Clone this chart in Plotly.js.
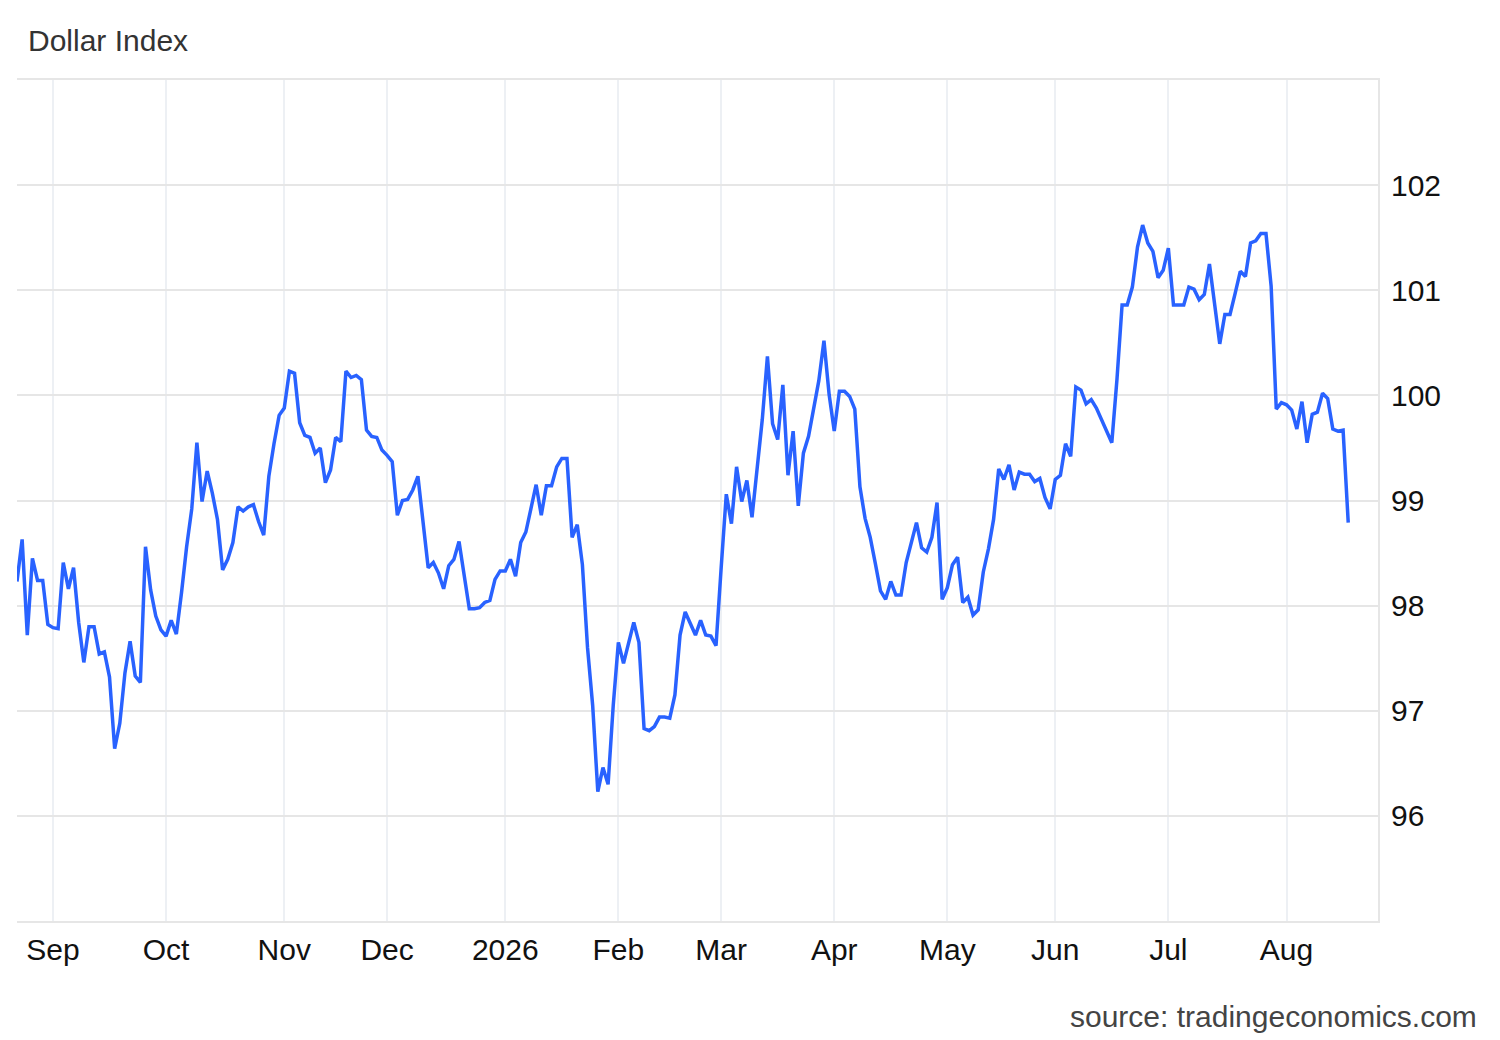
<!DOCTYPE html>
<html>
<head>
<meta charset="utf-8">
<script src="https://cdn.plot.ly/plotly-3.0.1.min.js"></script>
<style>
  html, body { margin: 0; padding: 0; background: #ffffff; }
  #chart { width: 1500px; height: 1040px; }
</style>
</head>
<body>
<div id="chart"></div>
<script>
// Dollar Index, daily (business days)
const startDate = "2025-08-21";
const aug2025 = [98.23, 98.63, 97.72, 98.45, 98.24, 98.24, 97.82];
const sep2025 = [97.79, 97.78, 98.41, 98.16, 98.36, 97.84, 97.46, 97.80, 97.80, 97.54, 97.56,
                 97.32, 96.64, 96.88, 97.36, 97.66, 97.33, 97.27, 98.56, 98.15, 97.90, 97.77];
const oct2025 = [97.71, 97.86, 97.73, 98.12, 98.56, 98.92, 99.55, 98.99, 99.28, 99.07, 98.82, 98.34,
                 98.44, 98.60, 98.94, 98.90, 98.94, 98.96, 98.80, 98.67, 99.23, 99.54, 99.81];
const nov2025 = [99.88, 100.23, 100.21, 99.74, 99.62, 99.60, 99.45, 99.50, 99.17, 99.29, 99.60,
                 99.56, 100.23, 100.17, 100.19, 100.15, 99.67, 99.61, 99.60, 99.48];
const dec2025 = [99.43, 99.37, 98.86, 99.00, 99.01, 99.10, 99.23, 98.82, 98.36, 98.41, 98.31, 98.16,
                 98.38, 98.44, 98.61, 98.29, 97.97, 97.97, 97.98, 98.03, 98.05, 98.25, 98.33];
const jan2026 = [98.33, 98.44, 98.28, 98.60, 98.70, 98.94, 99.15, 98.86, 99.14, 99.14, 99.32,
                 99.40, 99.40, 98.65, 98.77, 98.39, 97.60, 97.05, 96.23, 96.46, 96.30, 97.05];
const feb2026 = [97.65, 97.45, 97.64, 97.84, 97.65, 96.83, 96.81, 96.85, 96.94, 96.94,
                 96.93, 97.15, 97.72, 97.94, 97.83, 97.72, 97.86, 97.72, 97.71, 97.62];
const mar2026 = [98.36, 99.06, 98.78, 99.32, 98.99, 99.19, 98.84, 99.27, 99.77, 100.37, 99.73,
                 99.58, 100.10, 99.24, 99.66, 98.95, 99.45, 99.61, 99.88, 100.14, 100.52, 100.01];
const apr2026 = [99.66, 100.04, 100.04, 99.99, 99.87, 99.13, 98.83, 98.65, 98.40, 98.14, 98.06,
                 98.23, 98.10, 98.10, 98.41, 98.61, 98.79, 98.55, 98.51, 98.65, 98.98, 98.06];
const may2026 = [98.17, 98.39, 98.46, 98.03, 98.08, 97.91, 97.96, 98.32, 98.54, 98.82, 99.30,
                 99.20, 99.34, 99.10, 99.27, 99.25, 99.25, 99.18, 99.21, 99.03, 98.92];
const jun2026 = [99.20, 99.24, 99.54, 99.42, 100.08, 100.05, 99.92, 99.96, 99.88, 99.77, 99.66,
                 99.55, 100.15, 100.86, 100.86, 101.03, 101.41, 101.62, 101.45, 101.37, 101.12, 101.19];
const jul2026 = [101.40, 100.86, 100.86, 100.86, 101.03, 101.01, 100.91, 100.96, 101.25, 100.88, 100.49, 100.77,
                 100.77, 100.97, 101.18, 101.13, 101.45, 101.47, 101.54, 101.54, 101.04, 99.87, 99.93];
const aug2026 = [99.91, 99.86, 99.68, 99.94, 99.55, 99.82, 99.84, 100.02, 99.97, 99.68, 99.66, 99.67, 98.79];

const monthTickDates = ["2025-09-01", "2025-10-01", "2025-11-03", "2025-12-01", "2026-01-01", "2026-02-02",
                        "2026-03-02", "2026-04-01", "2026-05-01", "2026-06-01", "2026-07-01", "2026-08-03"];
const monthTickLabels = ["Sep", "Oct", "Nov", "Dec", "2026", "Feb", "Mar", "Apr", "May", "Jun", "Jul", "Aug"];
const yTickVals = [96, 97, 98, 99, 100, 101, 102];

const values = [].concat(aug2025, sep2025, oct2025, nov2025, dec2025, jan2026, feb2026,
                         mar2026, apr2026, may2026, jun2026, jul2026, aug2026);

// business-day dates for the x axis
function businessDays(start, n) {
  const out = [];
  const p = start.split("-").map(Number);
  let t = Date.UTC(p[0], p[1] - 1, p[2]);
  while (out.length < n) {
    const d = new Date(t);
    const wd = d.getUTCDay();
    if (wd !== 0 && wd !== 6) out.push(d.toISOString().slice(0, 10));
    t += 86400000;
  }
  return out;
}
const dates = businessDays(startDate, values.length);

const font = "'Liberation Sans', Arial, Helvetica, sans-serif";

const trace = {
  x: dates,
  y: values,
  type: "scatter",
  mode: "lines",
  line: { color: "#2962ff", width: 3.5 },
  hoverinfo: "x+y"
};

const layout = {
  width: 1500,
  height: 1040,
  paper_bgcolor: "#ffffff",
  plot_bgcolor: "#ffffff",
  margin: { l: 17, r: 122, t: 80, b: 119, pad: 0 },
  showlegend: false,
  title: {
    text: "Dollar Index",
    xref: "container", yref: "container",
    x: 28 / 1500, y: 1 - 40 / 1040,
    xanchor: "left", yanchor: "middle",
    font: { family: font, size: 30, color: "#333333" }
  },
  xaxis: {
    type: "date",
    range: ["2025-08-21", "2026-08-26 19:00"],
    rangebreaks: [{ bounds: ["sat", "mon"] }],
    tickmode: "array",
    tickvals: monthTickDates,
    ticktext: monthTickLabels,
    ticks: "",
    ticklabelstandoff: 1,
    showgrid: true,
    gridcolor: "#edf0f4",
    gridwidth: 2,
    showline: true,
    linecolor: "#e6e6e6",
    linewidth: 2,
    mirror: true,
    zeroline: false,
    tickfont: { family: font, size: 30, color: "#111111" }
  },
  yaxis: {
    side: "right",
    range: [95, 103],
    tickmode: "array",
    tickvals: yTickVals,
    ticktext: yTickVals.map(String),
    ticks: "",
    ticklabelstandoff: 5,
    showgrid: true,
    gridcolor: "#e6e6e6",
    gridwidth: 2,
    showline: true,
    linecolor: "#e6e6e6",
    linewidth: 2,
    zeroline: false,
    tickfont: { family: font, size: 30, color: "#111111" }
  },
  annotations: [{
    text: "source: tradingeconomics.com",
    xref: "paper", yref: "paper",
    x: (1479 - 17) / 1361, y: (921 - 1016) / 841,
    xanchor: "right", yanchor: "middle",
    showarrow: false,
    font: { family: font, size: 30, color: "#444444" }
  }]
};

Plotly.newPlot("chart", [trace], layout, { displayModeBar: false, staticPlot: true });
</script>
</body>
</html>
